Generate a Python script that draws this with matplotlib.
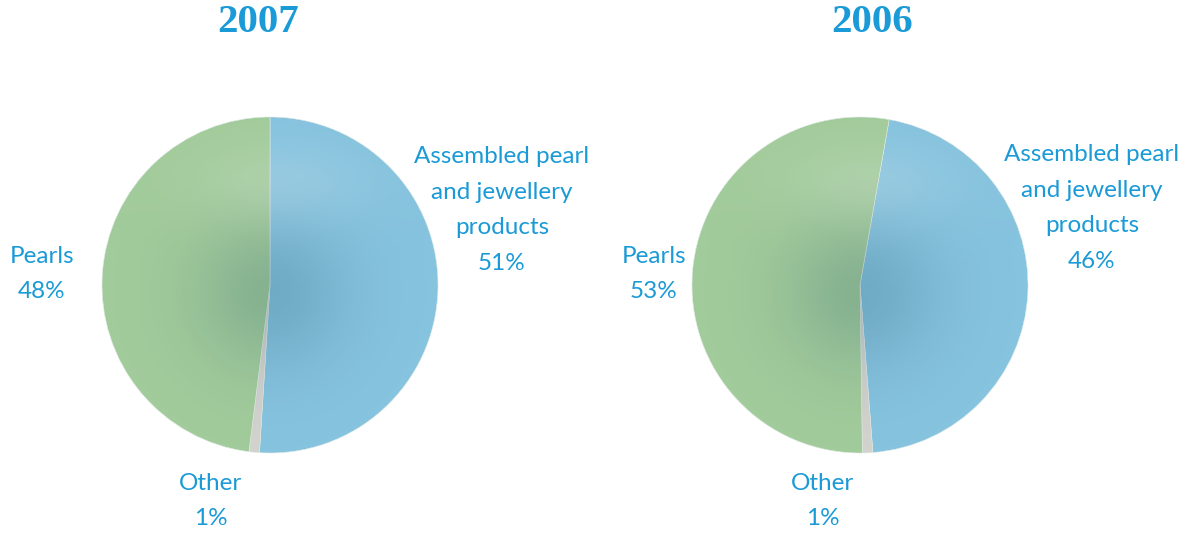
import numpy as np
import matplotlib
matplotlib.use("Agg")
import matplotlib.pyplot as plt
from matplotlib.patches import Circle

years = ["2007", "2006"]
categories = ["Assembled pearl\nand jewellery\nproducts", "Other", "Pearls"]
values_2007 = [51, 1, 48]
values_2006 = [46, 1, 53]
all_values = [values_2007, values_2006]

W, H = 1192, 534
fig = plt.figure(figsize=(W / 100, H / 100), dpi=100)
fig.patch.set_facecolor("white")

TXT = "#1a9ad6"
colors = ["#86c3de", "#d2d2ce", "#a2cb9b"]
FONT = "Lato"

centers = [(270, 285), (860, 285)]
radius = 168
startangles = [90, 80]
title_x = [258, 872]
label_pos = [
    {"Assembled": (502, 210), "Pearls": (42, 274), "Other": (211, 501)},
    {"Assembled": (1092, 208), "Pearls": (654, 274), "Other": (823, 501)},
]

def fx(px):
    return px / W

def fy(py):
    return 1 - py / H

# shading overlay: darker core (tinted), light highlight near top
n = 300
yy, xx = np.mgrid[-1:1:n * 1j, -1:1:n * 1j]
rr2 = xx ** 2 + (yy + 0.05) ** 2
dark = 0.2 * np.exp(-rr2 / 0.22)
hl = 0.16 * np.exp(-(((xx - 0.05) ** 2) / 0.25 + ((yy - 0.6) ** 2) / 0.06))
overlay = np.zeros((n, n, 4))
alpha = dark + hl
wfrac = hl / np.maximum(alpha, 1e-6)
base_dark = np.array([0.1, 0.3, 0.4])
for c in range(3):
    overlay[..., c] = wfrac * 1.0 + (1 - wfrac) * base_dark[c]
overlay[..., 3] = np.clip(alpha, 0, 1)

for i, (vals, yr) in enumerate(zip(all_values, years)):
    cx, cy = centers[i]
    ax = fig.add_axes([fx(cx - radius), 1 - (cy + radius) / H, 2 * radius / W, 2 * radius / H])
    ax.set_xlim(-1, 1)
    ax.set_ylim(-1, 1)
    ax.set_aspect("equal")
    ax.axis("off")
    wedges, _ = ax.pie(vals, colors=colors, startangle=startangles[i], counterclock=False,
                       radius=1, center=(0, 0), wedgeprops=dict(linewidth=0.4, edgecolor="#dfe9e4"))
    im = ax.imshow(overlay, extent=(-1, 1, -1, 1), origin="lower", zorder=5)
    im.set_clip_path(Circle((0, 0), 1, transform=ax.transData))
    ax.set_xlim(-1, 1)
    ax.set_ylim(-1, 1)

    fig.text(fx(title_x[i]), fy(22), yr, ha="center", va="center", color=TXT,
             fontsize=29.5, fontweight="bold", family="Liberation Serif")
    lp = label_pos[i]
    kw = dict(ha="center", va="center", color=TXT, fontsize=17.5, family=FONT,
              fontweight="normal", linespacing=1.85)
    fig.text(fx(lp["Assembled"][0]), fy(lp["Assembled"][1]),
             categories[0] + "\n" + f"{vals[0]}%", **kw)
    fig.text(fx(lp["Pearls"][0]), fy(lp["Pearls"][1]),
             categories[2] + "\n" + f"{vals[2]}%", **kw)
    fig.text(fx(lp["Other"][0]), fy(lp["Other"][1]),
             categories[1] + "\n" + f"{vals[1]}%", **kw)

fig.savefig("out.png", dpi=100, facecolor="white")
